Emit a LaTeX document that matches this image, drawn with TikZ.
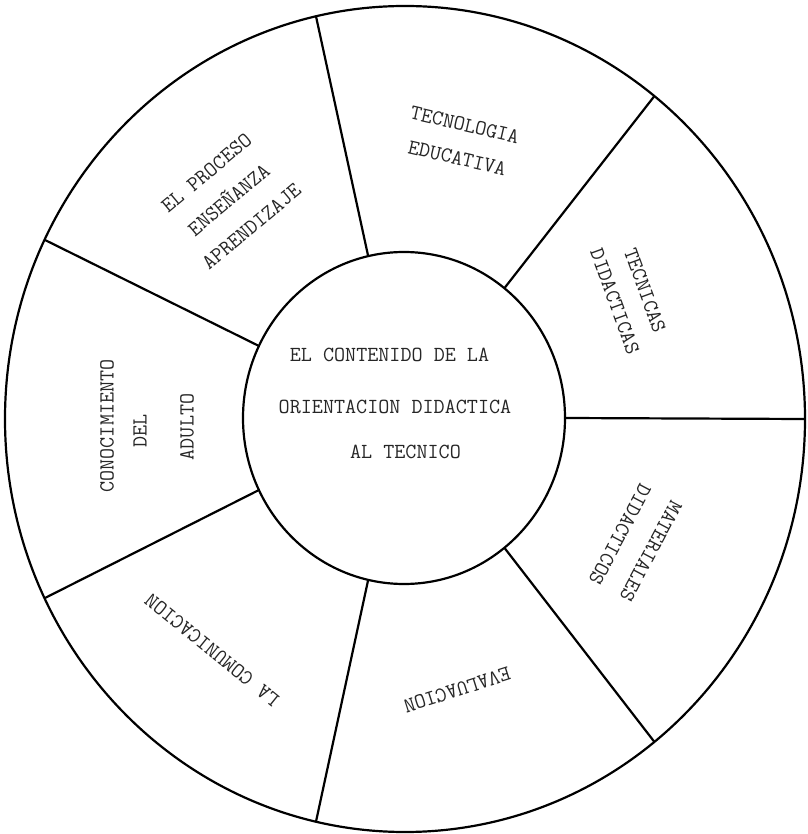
\documentclass[tikz,border=0pt]{standalone}
\usetikzlibrary{calc}
\begin{document}
\begin{tikzpicture}[x=1pt,y=1pt,
  ring/.style={line width=2.2pt,black},
  lbl/.style={font=\ttfamily\fontsize{21.5}{35}\selectfont,inner sep=0pt,align=center,text=black!85}]
\useasboundingbox (-405,-415) rectangle (402,419);
\fill[white] (-405,-415) rectangle (402,419);
\coordinate (c) at (0,0);
\coordinate (ci) at (-1,1);
\draw[ring] (c) ellipse [x radius=400, y radius=413];
\draw[ring] (ci) ellipse [x radius=161, y radius=166];
\foreach \k in {0,...,6}{
  \pgfmathsetmacro{\a}{\k*360/7}
  \draw[ring] ($(ci)+(\a:161pt and 166pt)$) -- ($(c)+(\a:400pt and 413pt)$);
}
% centre
\node[lbl] (m1) at (-15.5,64) {EL CONTENIDO DE LA};
\node[lbl] (m2) at (-10,12) {ORIENTACION DIDACTICA};
\node[lbl] (m3) at (0.5,-33) {AL TECNICO};
% sectors
\node[lbl,rotate=40] (s1) at (-176,219) {EL PROCESO\\ENSEÑANZA\\APRENDIZAJE};
\node[lbl,rotate=-13,font=\ttfamily\fontsize{21.5}{34}\selectfont] (s2) at (56,277.5) {TECNOLOGIA\\EDUCATIVA};
\node[lbl,rotate=-70,font=\ttfamily\fontsize{21.5}{32}\selectfont] (s3) at (225,123) {TECNICAS\\DIDACTICAS};
\node[lbl,rotate=-118] (s4) at (230.5,-124) {MATERIALES\\DIDACTICOS};
\node[lbl,rotate=197.6] (s5) at (52,-271) {EVALUACION};
\node[lbl,rotate=141] (s6) at (-193,-231) {LA COMUNICACION};
\node[lbl,rotate=90] (s7a) at (-298,-7) {CONOCIMIENTO};
\node[lbl,rotate=90] (s7b) at (-265,-12) {DEL};
\node[lbl,rotate=90] (s7c) at (-218,-8) {ADULTO};
\end{tikzpicture}
\end{document}
